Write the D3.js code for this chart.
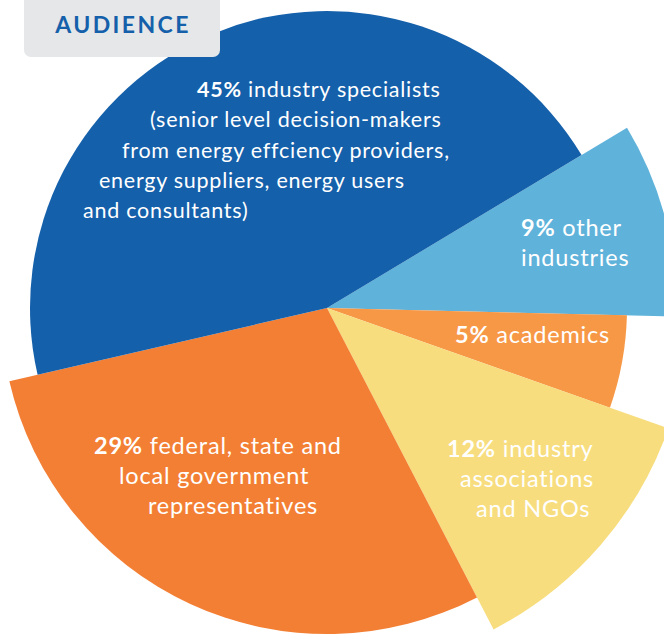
<!DOCTYPE html>
<html>
<head>
<meta charset="utf-8">
<script src="https://cdn.jsdelivr.net/npm/d3@7"></script>
<style>
  html, body { margin: 0; padding: 0; background: #ffffff; }
  svg { display: block; }
</style>
</head>
<body>
<div id="container"></div>
<script>
// Audience split, in pie order (clockwise from the top-right boundary)
const categories = [
  "other industries",
  "academics",
  "industry associations and NGOs",
  "federal, state and local government representatives",
  "industry specialists"
];
const shares = [9, 5, 12, 29, 45];
const labelLines = [
  ["other", "industries"],
  ["academics"],
  ["industry", "associations", "and NGOs"],
  ["federal, state and", "local government", "representatives"],
  ["industry specialists", "(senior level decision-makers", "from energy effciency providers,", "energy suppliers, energy users", "and consultants)"]
];

const width = 664;
const height = 635;
const cx = 327, cy = 308;

// Styling per slice (each wedge has its own radius in the design)
const sliceColors = ["#5fb2da", "#f79846", "#f7dd7e", "#f37f34", "#1560aa"];
const outerRadii = [350, 300, 362, 326, 297];
// where each label block starts: first baseline, x of every line, type size
const labelPos = [
  { y: 236, xs: [521, 521], size: 23.5, ls: 0.8, lh: 30 },
  { y: 343, xs: [455], size: 23.5, ls: 0.8, lh: 30 },
  { y: 457, xs: [447, 460, 476], size: 23.5, ls: 0.8, lh: 30 },
  { y: 454, xs: [94, 119, 148], size: 23.5, ls: 0.8, lh: 30 },
  { y: 97, xs: [197, 150, 122, 99, 83], size: 21.5, ls: 0.75, lh: 30.3 }
];

const svg = d3.select("#container")
  .append("svg")
  .attr("width", width)
  .attr("height", height);

const pie = d3.pie()
  .sort(null)
  .value(d => d)
  .startAngle(59 * Math.PI / 180)
  .endAngle(59 * Math.PI / 180 + 2 * Math.PI);

const arc = d3.arc()
  .innerRadius(0)
  .outerRadius(d => outerRadii[d.index]);

const g = svg.append("g")
  .attr("transform", `translate(${cx},${cy})`);

g.selectAll("path")
  .data(pie(shares))
  .join("path")
  .attr("d", arc)
  .attr("fill", (d, i) => sliceColors[i]);

// Labels
const labels = svg.append("g")
  .style("font-family", "Lato, 'Open Sans', sans-serif")
  .attr("fill", "#ffffff");

shares.forEach((v, i) => {
  const pos = labelPos[i];
  labelLines[i].forEach((line, j) => {
    const t = labels.append("text")
      .attr("x", pos.xs[j])
      .attr("y", pos.y + j * pos.lh)
      .style("font-size", pos.size + "px")
      .style("letter-spacing", pos.ls + "px");
    if (j === 0) {
      t.append("tspan").attr("font-weight", 700).text(v + "%");
      t.append("tspan").text(" " + line);
    } else {
      t.text(line);
    }
  });
});

// Title tab
svg.append("rect")
  .attr("x", 24)
  .attr("y", -10)
  .attr("width", 196)
  .attr("height", 67)
  .attr("rx", 7)
  .attr("fill", "#e6e7e8");

svg.append("text")
  .attr("x", 123)
  .attr("y", 33)
  .attr("text-anchor", "middle")
  .style("font-family", "Lato, 'Open Sans', sans-serif")
  .style("font-size", "23px")
  .style("font-weight", 700)
  .style("letter-spacing", "2.4px")
  .attr("fill", "#1560aa")
  .text("AUDIENCE");
</script>
</body>
</html>
